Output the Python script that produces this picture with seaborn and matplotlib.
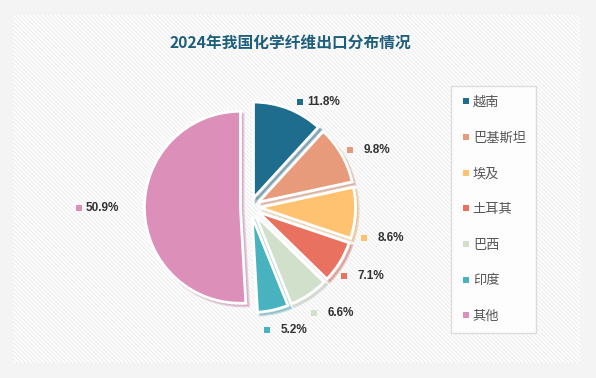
import numpy as np
import seaborn as sns
import matplotlib.pyplot as plt
from matplotlib.patches import Rectangle
from matplotlib.lines import Line2D

# --- data ---
title = "2024年我国化学纤维出口分布情况"
countries = ["越南", "巴基斯坦", "埃及", "土耳其", "巴西", "印度", "其他"]
shares = [11.8, 9.8, 8.6, 7.1, 6.6, 5.2, 50.9]
colors = ["#1E6D8E", "#E89B7B", "#FFC271", "#E8715F", "#D0E0CB", "#48B3BE", "#DB8FB9"]
# small pixel nudges for the data labels (Excel "best fit" placement)
label_nudge = [(8, -2), (0, 0), (-1, -24), (-4, -9), (0, -10), (-8, -11), (0, 4)]

sns.set_theme(style="white")
plt.rcParams["font.family"] = ["Noto Sans CJK SC", "DejaVu Sans"]
palette = sns.color_palette(colors)

W, H = 596, 378
fig = plt.figure(figsize=(W / 100, H / 100), dpi=100)
fig.patch.set_facecolor("#F4F4F4")

# hatched panel behind the chart
panel = Rectangle((13 / W, 1 - 363 / H), (580 - 13) / W, (363 - 15) / H,
                  transform=fig.transFigure, facecolor="white",
                  edgecolor="#F0F0F0", hatch="\\" * 8, linewidth=0, zorder=-5)
fig.patches.append(panel)

# axes fills the figure, 1 data unit = pie radius
R = 96
cx, cy = 250, 207
ax = fig.add_axes([0, 0, 1, 1])

wedges, _ = ax.pie(shares, colors=palette, startangle=90, counterclock=False,
                   explode=[0.1] * len(shares), radius=1,
                   wedgeprops=dict(edgecolor="white", linewidth=2),
                   shadow=dict(ox=0.02, oy=-0.02, shade=0.15, alpha=0.35))

ax.set_xlim(-cx / R, (W - cx) / R)
ax.set_ylim(-(H - cy) / R, cy / R)
ax.set_aspect("equal")
ax.axis("off")
ax.patch.set_alpha(0)

# percentage labels with small colored squares
for w, val, col, (nx, ny) in zip(wedges, shares, palette, label_nudge):
    mid = np.deg2rad((w.theta1 + w.theta2) / 2)
    r = 1.78 if val > 40 else 1.2
    x, y = r * np.cos(mid) + nx / R, r * np.sin(mid) + ny / R
    ax.scatter([x], [y], marker="s", s=13, color=col, zorder=5, linewidths=0)
    ax.annotate(f"{val:.1f}%", xy=(x, y), xytext=(40, 0), textcoords="offset pixels",
                ha="right", va="center", fontsize=8.5, fontweight="bold",
                color="#333333", family=["Liberation Sans"])

fig.text(290 / W, 1 - 43 / H, title, ha="center", va="center", fontsize=11.3,
         fontweight="bold", color="#1D5E7C")

handles = [Line2D([], [], marker="s", linestyle="", markersize=4,
                  markerfacecolor=c, markeredgewidth=0) for c in palette]
leg = fig.legend(handles, countries, loc="upper left",
                 bbox_to_anchor=(451 / W, 1 - 86 / H), frameon=True,
                 fontsize=9.5, labelspacing=1.72, handlelength=0.75,
                 handletextpad=0.15, borderpad=0.75, borderaxespad=0)
leg.get_frame().set_edgecolor("#D6D6D6")
leg.get_frame().set_facecolor("white")
leg.get_frame().set_boxstyle("square", pad=0)
for t in leg.get_texts():
    t.set_color("#555555")

fig.savefig("out.png", dpi=100, facecolor=fig.get_facecolor())
